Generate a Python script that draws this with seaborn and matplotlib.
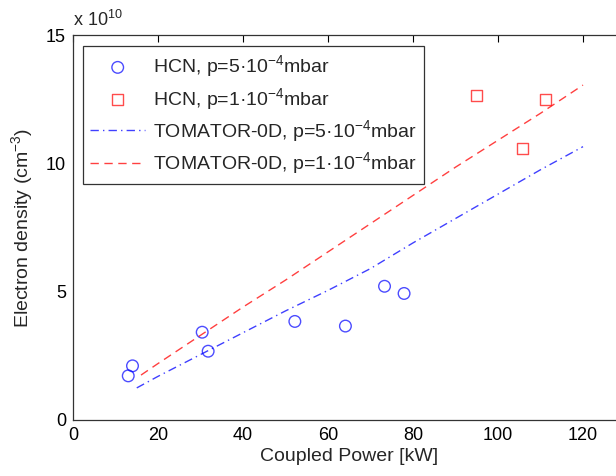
import matplotlib
matplotlib.use("Agg")
import matplotlib.pyplot as plt
import seaborn as sns

# Data (electron density in units of 1e10 cm^-3)
hcn5_power = [13.0, 14.0, 30.4, 31.8, 52.2, 64.1, 73.3, 77.9]
hcn5_dens = [1.72, 2.11, 3.42, 2.68, 3.84, 3.66, 5.21, 4.93]

hcn1_power = [95.0, 105.8, 111.1]
hcn1_dens = [12.65, 10.57, 12.50]

tom5_power = [15, 20, 30, 40, 50, 60, 70, 80, 90, 100, 110, 120]
tom5_dens = [1.25, 1.70, 2.55, 3.40, 4.25, 5.05, 5.90, 6.90, 7.85, 8.80, 9.75, 10.65]

tom1_power = [16, 20, 30, 40, 50, 60, 70, 80, 90, 100, 110, 120]
tom1_dens = [1.75, 2.20, 3.30, 4.40, 5.45, 6.55, 7.65, 8.75, 9.85, 10.90, 11.95, 13.05]

x_ticks = [0, 20, 40, 60, 80, 100, 120]
y_ticks = [0, 5, 10, 15]

labels = [
    r"HCN, p=5·10$^{-4}$mbar",
    r"HCN, p=1·10$^{-4}$mbar",
    r"TOMATOR-0D, p=5·10$^{-4}$mbar",
    r"TOMATOR-0D, p=1·10$^{-4}$mbar",
]

sns.set_style("white")
plt.rcParams["font.family"] = ["Liberation Sans", "DejaVu Sans"]
plt.rcParams["mathtext.default"] = "regular"
plt.rcParams["font.size"] = 14

fig = plt.figure(figsize=(6.16, 4.76), dpi=100)
W, H = 616, 476
ax_left, ax_bottom, ax_top = 73, 420, 35
px_per_unit = 4.25
xmax = 130
ax = fig.add_axes([ax_left / W, 1 - ax_bottom / H,
                   xmax * px_per_unit / W, (ax_bottom - ax_top) / H])

blue = "#0000ff"
red = "#ff0000"

sns.scatterplot(x=hcn5_power, y=hcn5_dens, ax=ax, marker="o", s=70,
                facecolor="none", edgecolor=blue, linewidth=1.0, alpha=0.7,
                label=labels[0])
sns.scatterplot(x=hcn1_power, y=hcn1_dens, ax=ax, marker="s", s=65,
                facecolor="none", edgecolor=red, linewidth=1.0, alpha=0.7,
                label=labels[1])
sns.lineplot(x=tom5_power, y=tom5_dens, ax=ax, color=blue, linewidth=1.0,
             alpha=0.75, label=labels[2])
sns.lineplot(x=tom1_power, y=tom1_dens, ax=ax, color=red, linewidth=1.0,
             alpha=0.75, label=labels[3])
ax.lines[0].set_linestyle((0, (6, 3, 1, 3)))
ax.lines[1].set_linestyle((0, (6, 4)))

ax.set_xlim(0, xmax)
ax.set_ylim(0, 15)
ax.set_xticks(x_ticks)
ax.set_yticks(y_ticks)
ax.tick_params(direction="in", length=5, width=0.8, top=True, right=True,
               labelsize=13, colors="black", pad=5)
for s in ax.spines.values():
    s.set_visible(True)
    s.set_color("#333333")
    s.set_linewidth(0.9)

ax.set_xlabel("Coupled Power [kW]", fontsize=14, labelpad=3)
ax.set_ylabel(r"Electron density (cm$^{-3}$)", fontsize=14, labelpad=8)

fig.text(73 / W, 1 - 20 / H, r"x 10$^{10}$", fontsize=13, va="center", ha="left")

leg = ax.legend(loc="upper left", bbox_to_anchor=(82.7 / W, 1 - 45.7 / H),
                bbox_transform=fig.transFigure, borderaxespad=0,
                fancybox=False, edgecolor="#333333", framealpha=1,
                handlelength=2.8, labelspacing=0.33, handletextpad=0.4,
                borderpad=0.4, fontsize=14)
leg.get_frame().set_linewidth(0.9)

fig.savefig("out.png", dpi=100)
